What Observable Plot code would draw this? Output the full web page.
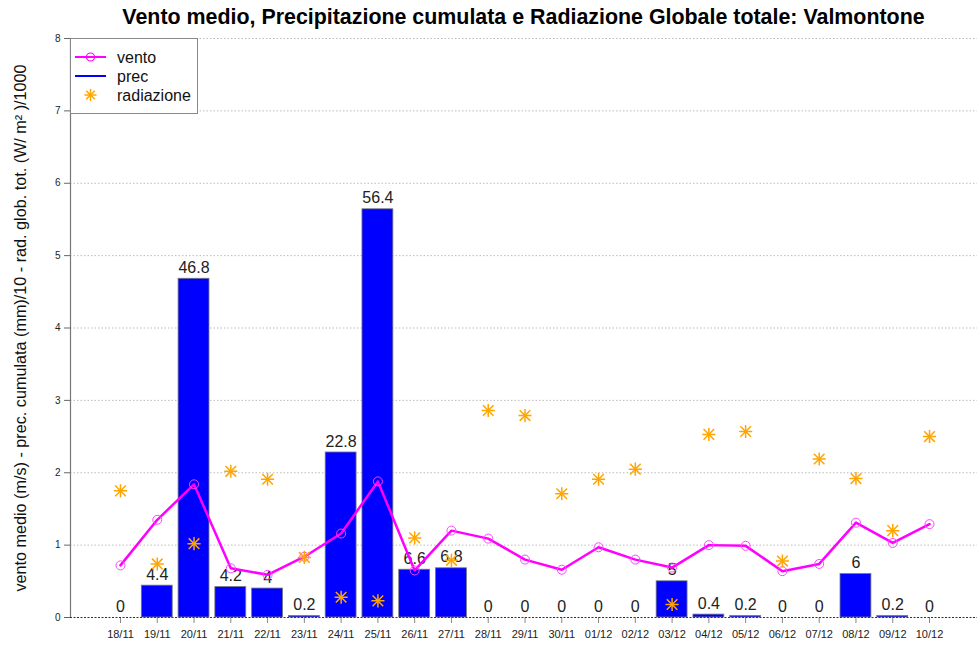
<!DOCTYPE html>
<html><head><meta charset="utf-8">
<script src="https://cdn.jsdelivr.net/npm/d3@7"></script>
<script src="https://cdn.jsdelivr.net/npm/@observablehq/plot@0.6"></script>
<style>
body{margin:0;background:#fff;font-family:"Liberation Sans",Arial,sans-serif;}
#wrap{position:relative;width:977px;height:645px;overflow:hidden;}
#title{height:30px;box-sizing:border-box;padding-left:70px;text-align:center;font-weight:bold;font-size:21.4px;line-height:30px;color:#000;padding-top:2px;}
#legend{position:absolute;left:70px;top:38px;width:128px;height:76px;box-sizing:border-box;background:#fff;border:1px solid #888;}
#legend svg{position:absolute;left:0;top:0;}
</style></head>
<body>
<div id="wrap">
<div id="title">Vento medio, Precipitazione cumulata e Radiazione Globale totale: Valmontone</div>
<div id="chart"></div>
<div id="legend">
<svg width="128" height="76" font-family="Liberation Sans, Arial, sans-serif" font-size="16" fill="#111">
<line x1="4" x2="35" y1="18" y2="18" stroke="#FF00FF" stroke-width="2"/>
<circle cx="19.5" cy="18" r="4" fill="none" stroke="#FF00FF" stroke-width="1.2"/>
<text x="46" y="24">vento</text>
<line x1="4" x2="35" y1="37" y2="37" stroke="#0000FF" stroke-width="2"/>
<text x="46" y="43">prec</text>
<g stroke="#FFA500" stroke-width="1.5" transform="translate(19.5,56)">
<line x1="-6" x2="6" y1="0" y2="0"/><line x1="0" x2="0" y1="-6" y2="6"/>
<line x1="-4.3" x2="4.3" y1="-4.3" y2="4.3"/><line x1="-4.3" x2="4.3" y1="4.3" y2="-4.3"/>
</g>
<text x="46" y="62">radiazione</text>
</svg>
</div>
</div>
<script>
const dates = ["18/11","19/11","20/11","21/11","22/11","23/11","24/11","25/11","26/11","27/11","28/11","29/11","30/11","01/12","02/12","03/12","04/12","05/12","06/12","07/12","08/12","09/12","10/12"];
const prec = [0, 4.4, 46.8, 4.2, 4, 0.2, 22.8, 56.4, 6.6, 6.8, 0, 0, 0, 0, 0, 5, 0.4, 0.2, 0, 0, 6, 0.2, 0];
const vento = [0.72, 1.35, 1.84, 0.68, 0.59, 0.84, 1.16, 1.88, 0.65, 1.20, 1.09, 0.80, 0.66, 0.97, 0.80, 0.69, 1.00, 0.99, 0.64, 0.74, 1.31, 1.03, 1.29];
const radiazione = [1.75, 0.74, 1.02, 2.02, 1.91, 0.83, 0.28, 0.23, 1.10, 0.79, 2.86, 2.79, 1.71, 1.91, 2.05, 0.18, 2.53, 2.57, 0.78, 2.19, 1.92, 1.20, 2.50];
const yTicks = [0, 1, 2, 3, 4, 5, 6, 7, 8];
const yLabel = "vento medio (m/s) - prec. cumulata (mm)/10 - rad. glob. tot. (W/ m² )/1000";

const idx = d3.range(dates.length);
const X = i => dates[i];

const leftLine = (index, scales, values, dim) => {
  const l = document.createElementNS("http://www.w3.org/2000/svg", "line");
  l.setAttribute("x1", dim.marginLeft + 0.5);
  l.setAttribute("x2", dim.marginLeft + 0.5);
  l.setAttribute("y1", dim.marginTop);
  l.setAttribute("y2", dim.height - dim.marginBottom);
  l.setAttribute("stroke", "#777");
  l.setAttribute("stroke-width", "1.2");
  return l;
};

const plot = Plot.plot({
  width: 977,
  height: 615,
  marginLeft: 70,
  marginRight: 0,
  marginTop: 8,
  marginBottom: 28,
  style: {fontFamily: "Liberation Sans, Arial, sans-serif", background: "#fff", color: "#222"},
  x: {type: "band", domain: dates, range: [101.6, 947.4], paddingInner: 0.16, paddingOuter: 0.08, round: false},
  y: {domain: [0, 8]},
  marks: [
    Plot.gridY(yTicks.filter(t => t > 0), {stroke: "#bbb", strokeOpacity: 1, strokeDasharray: "1.5,2"}),
    Plot.axisY({ticks: yTicks, tickSize: 6, tickPadding: 4, fontSize: 10, label: null, stroke: "#666"}),
    Plot.axisX({tickSize: 6, tickPadding: 7, fontSize: 11, label: null, stroke: "#888"}),
    Plot.text([yLabel], {frameAnchor: "left", textAnchor: "middle", rotate: -90, dx: -50, fontSize: 16.2, fill: "#111"}),
    Plot.barY(idx, {x: X, y: i => prec[i] / 10, fill: "#0000FF", stroke: "#777", strokeWidth: 0.8}),
    Plot.ruleY([0], {stroke: "#333", strokeDasharray: "2,1.5"}),
    leftLine,
    Plot.text(idx, {x: X, y: i => prec[i] / 10, text: i => String(prec[i]), dy: -11, fontSize: 16, fill: "#222"}),
    Plot.line(idx, {x: X, y: i => vento[i], stroke: "#FF00FF", strokeWidth: 2.5}),
    Plot.dot(idx, {x: X, y: i => vento[i], r: 4.5, stroke: "#FF44FF", strokeWidth: 1, fill: "none"}),
    Plot.dot(idx, {x: X, y: i => radiazione[i], symbol: "plus", r: 4.3, stroke: "#FFA500", strokeWidth: 1.5}),
    Plot.dot(idx, {x: X, y: i => radiazione[i], symbol: "times", r: 4.9, stroke: "#FFA500", strokeWidth: 1.5})
  ]
});
document.getElementById("chart").appendChild(plot);
</script>
</body></html>
